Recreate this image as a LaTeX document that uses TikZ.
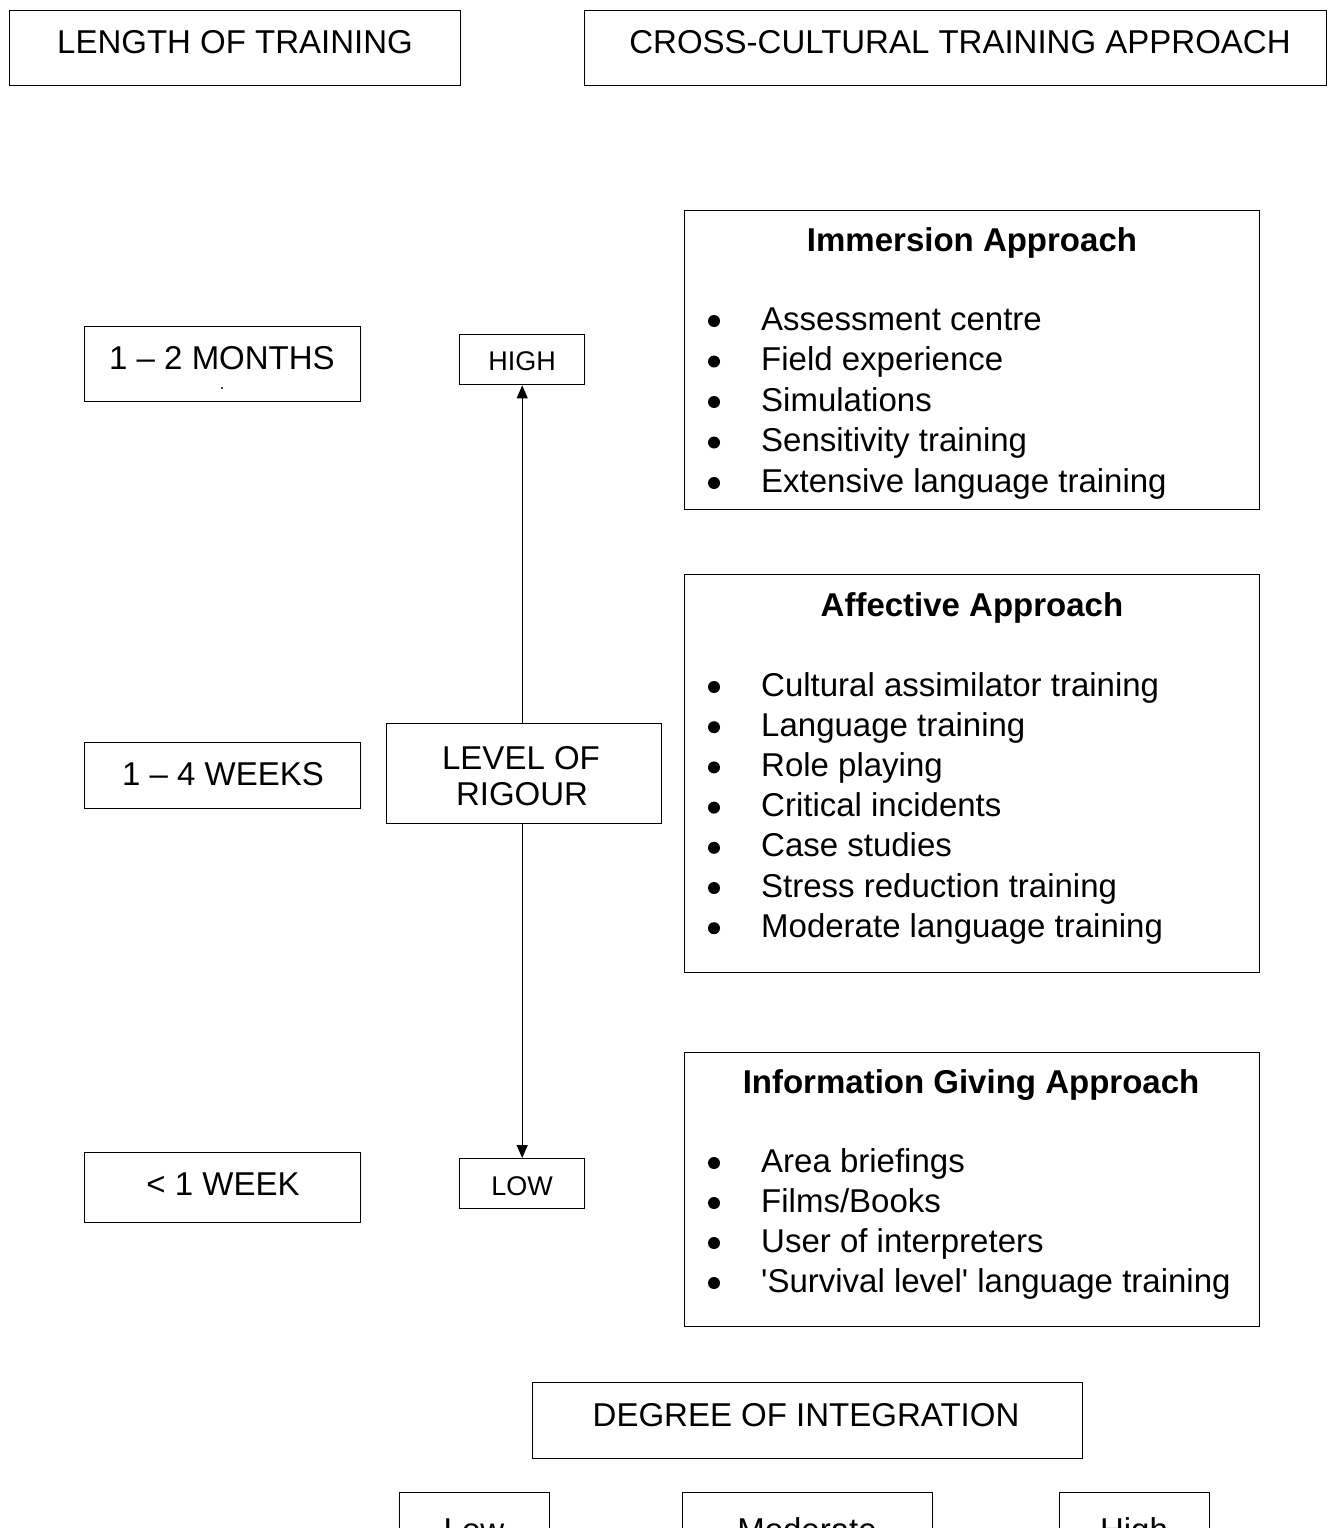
\documentclass[tikz,border=0pt]{standalone}
\usepackage{fontspec}
\setmainfont{Liberation Sans}
\usetikzlibrary{arrows.meta,positioning,calc}
\tikzset{
  box/.style={draw,line width=1.4pt,inner sep=0pt,anchor=north west},
  lbl/.style={font=\fontsize{33}{39}\selectfont,anchor=base,inner sep=0pt},
  lbls/.style={lbl,font=\fontsize{27}{32}\selectfont},
  ttl/.style={lbl,font=\fontsize{33}{39}\selectfont\bfseries},
  entry/.style={lbl,anchor=base west},
  arr/.style={-{Triangle[length=13pt,width=11pt]},line width=1.3pt},
}

\begin{document}
\begin{tikzpicture}[x=1pt, y=-1pt]
  \useasboundingbox (0,0) rectangle (1327,1528);
  \clip (0,0) rectangle (1327,1528);
  % Column heads
  \node[box, minimum width=451, minimum height=75] (len) at (9,10) {};
  \node[lbl] (lenT) at (235,53) {LENGTH OF TRAINING};
  \node[box, minimum width=742, minimum height=75] (cross) at (584,10) {};
  \node[lbl] (crossT) at (960,53) {CROSS-CULTURAL TRAINING APPROACH};
  % Length of training, one box per level
  \node[box, minimum width=276, minimum height=75] (mon) at (84,326) {};
  \node[lbl] (monT) at (222,369) {1 -- 2 MONTHS};
  \fill (222,388) circle (1.2pt);
  \node[box, minimum width=276, minimum height=66] (wks) at (84,742) {};
  \node[lbl] (wksT) at (223,785) {1 -- 4 WEEKS};
  \node[box, minimum width=276, minimum height=70] (wk) at (84,1152) {};
  \node[lbl] (wkT) at (223,1195) {< 1 WEEK};
  % The rigour scale
  \node[box, minimum width=125, minimum height=50] (high) at (459,334) {};
  \node[lbls] (highT) at (522,370) {HIGH};
  \node[box, minimum width=275, minimum height=100] (rig) at (386,723) {};
  \node[lbl] (rigT) at (521,769) {LEVEL OF};
  \node[lbl] (rigU) at (522,805) {RIGOUR};
  \node[box, minimum width=125, minimum height=50] (low) at (459,1158) {};
  \node[lbls] (lowT) at (522,1195) {LOW};
  \draw[arr] (high.south |- rig.north) -- (high.south);
  \draw[arr] (low.north |- rig.south) -- (low.north);
  % Approaches
  \node[box, minimum width=575, minimum height=299] (imm) at (684,210) {};
  \node[ttl] (immT) at (972,251) {Immersion Approach};
  \foreach \entry [count=\i] in {Assessment centre, Field experience,
      Simulations, Sensitivity training, Extensive language training} {
    \pgfmathsetmacro\by{330+40.5*(\i-1)}
    \fill (714,\by-9) circle (6pt);
    \node[entry] (imm-\i) at (761,\by) {\entry};
  }
  \node[box, minimum width=575, minimum height=398] (aff) at (684,574) {};
  \node[ttl] (affT) at (972,616) {Affective Approach};
  \foreach \entry [count=\i] in {Cultural assimilator training,
      Language training, Role playing, Critical incidents, Case studies,
      Stress reduction training, Moderate language training} {
    \pgfmathsetmacro\by{696+40.2*(\i-1)}
    \fill (714,\by-9) circle (6pt);
    \node[entry] (aff-\i) at (761,\by) {\entry};
  }
  \node[box, minimum width=575, minimum height=274] (info) at (684,1052) {};
  \node[ttl] (infoT) at (971,1093) {Information Giving Approach};
  \foreach \entry [count=\i] in {Area briefings, Films/Books,
      User of interpreters,
      \textquotesingle Survival level\textquotesingle{} language training} {
    \pgfmathsetmacro\by{1172+40*(\i-1)}
    \fill (714,\by-9) circle (6pt);
    \node[entry] (info-\i) at (761,\by) {\entry};
  }
  % Degree of integration
  \node[box, minimum width=550, minimum height=76] (deg) at (532,1382) {};
  \node[lbl] (degT) at (806,1426) {DEGREE OF INTEGRATION};
  \node[box, minimum width=150, minimum height=80] (ilow) at (399,1492) {};
  \node[lbl] (ilowT) at (474,1541) {Low};
  \node[box, minimum width=250, minimum height=80] (imod) at (682,1492) {};
  \node[lbl] (imodT) at (807,1541) {Moderate};
  \node[box, minimum width=150, minimum height=80] (ihigh) at (1059,1492) {};
  \node[lbl] (ihighT) at (1134,1541) {High};
\end{tikzpicture}
\end{document}
